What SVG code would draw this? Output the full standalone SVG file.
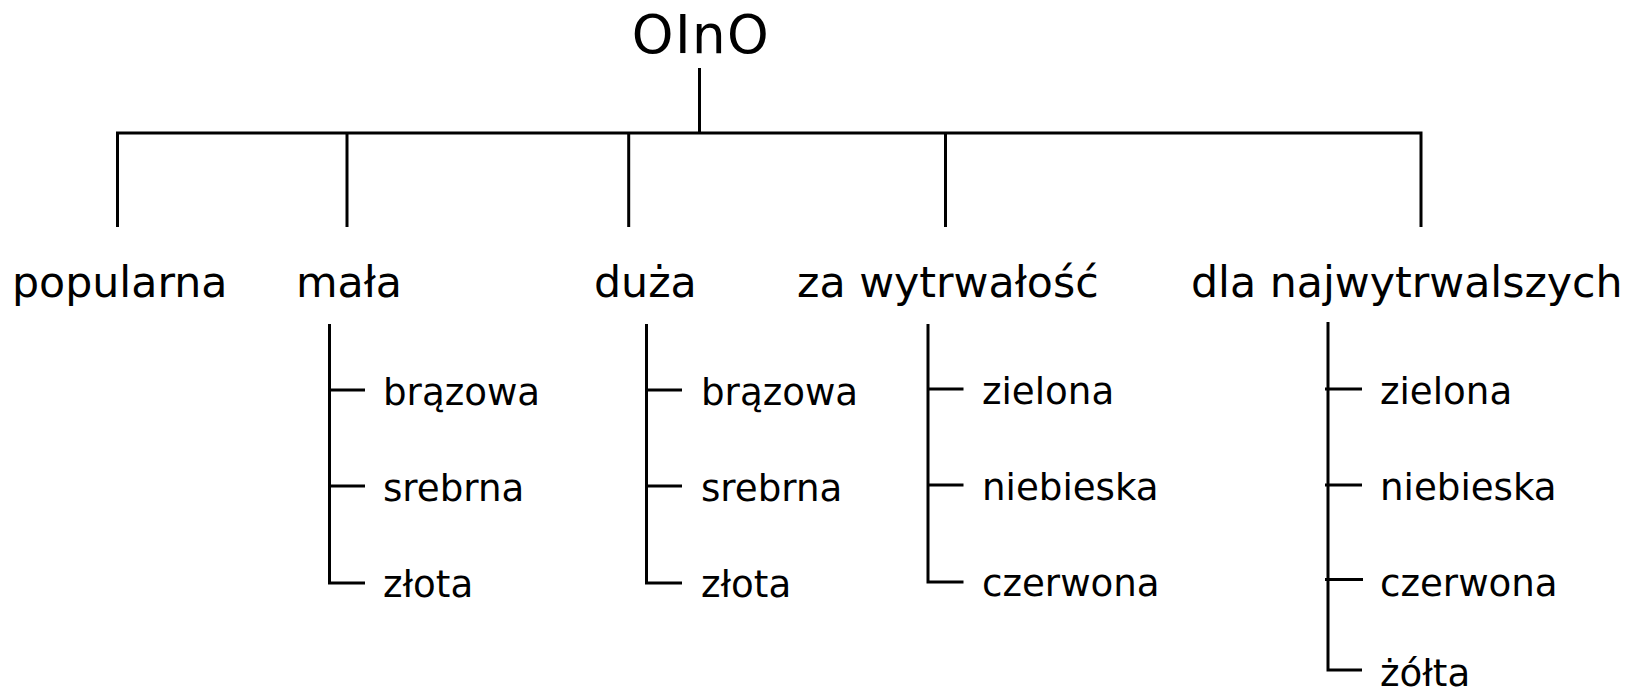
<svg xmlns="http://www.w3.org/2000/svg" width="1627" height="690" viewBox="0 0 1627 690">
<style>
.ln{fill:none;stroke:#000;stroke-width:3;stroke-linecap:butt;stroke-linejoin:miter}
.t0{font-family:"DejaVu Sans","Liberation Sans",sans-serif;font-size:53px;letter-spacing:1.5px;fill:#000}
.t1{font-family:"DejaVu Sans","Liberation Sans",sans-serif;font-size:42.7px;fill:#000}
.t2{font-family:"DejaVu Sans","Liberation Sans",sans-serif;font-size:37.2px;fill:#000}
</style>
<rect width="1627" height="690" fill="#fff"/>
<g id="connectors">
<path class="ln" d="M699.5,68 V133"/>
<path class="ln" d="M117.5,227 V133 H1421 V227"/>
<path class="ln" d="M347,133 V227"/>
<path class="ln" d="M628.7,133 V227"/>
<path class="ln" d="M945.5,133 V227"/>
<path class="ln" d="M329.5,324 V583 H365 M329.5,390 H365 M329.5,486 H365"/>
<path class="ln" d="M646.5,324 V583 H682 M646.5,390 H682 M646.5,486 H682"/>
<path class="ln" d="M928,324 V582 H963.5 M928,389 H963.5 M928,485 H963.5"/>
<path class="ln" d="M1328,322 V670 H1362 M1325,389 H1362 M1325,485 H1362 M1325,579.5 H1363"/>
</g>
<g id="root"><text class="t0" x="701" y="52.5" text-anchor="middle">OInO</text></g>
<g id="popularna"><text class="t1" x="12" y="297">popularna</text></g>
<g id="mala"><text class="t1" x="296" y="297">mała</text>
<text class="t2" x="383" y="405">brązowa</text>
<text class="t2" x="383" y="501">srebrna</text>
<text class="t2" x="383" y="597">złota</text></g>
<g id="duza"><text class="t1" x="594" y="297">duża</text>
<text class="t2" x="701" y="405">brązowa</text>
<text class="t2" x="701" y="501">srebrna</text>
<text class="t2" x="701" y="597">złota</text></g>
<g id="za-wytrwalosc"><text class="t1" x="797" y="297">za wytrwałość</text>
<text class="t2" x="982" y="404">zielona</text>
<text class="t2" x="982" y="500">niebieska</text>
<text class="t2" x="982" y="596">czerwona</text></g>
<g id="dla-najwytrwalszych"><text class="t1" x="1191" y="297">dla najwytrwalszych</text>
<text class="t2" x="1380" y="404">zielona</text>
<text class="t2" x="1380" y="500">niebieska</text>
<text class="t2" x="1380" y="596">czerwona</text>
<text class="t2" x="1380" y="686">żółta</text></g>
</svg>
